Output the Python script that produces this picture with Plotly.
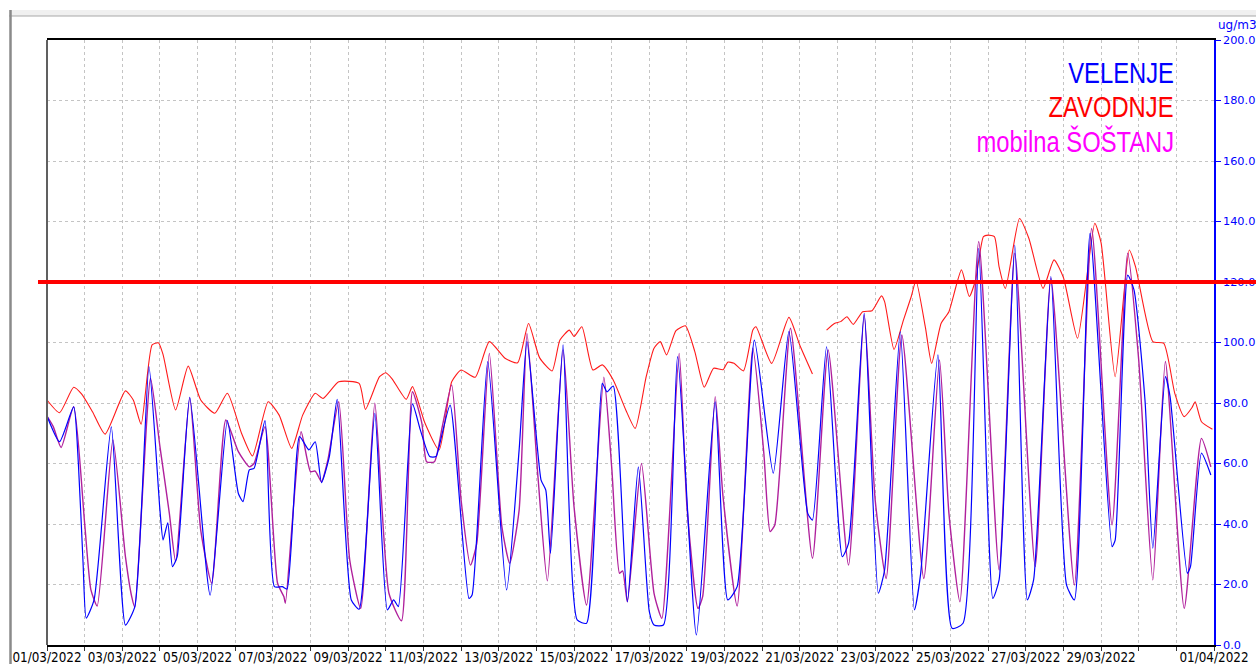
import plotly.graph_objects as go
import pandas as pd

START = pd.Timestamp("2022-03-01 00:00")

# ---- data: hours since 01/03/2022 00:00 and concentrations (ug/m3) ----
velenje_hours = [0, 8, 17, 20, 23, 25, 30, 41, 50, 56, 65, 72, 74, 77, 80, 83, 91, 104, 115, 122,
                 125, 129, 132, 139, 145, 150, 153, 161, 167, 171, 175, 180, 185, 194, 199, 209, 217, 221, 224, 233,
                 238, 244, 248, 250, 257, 269, 271, 281, 293, 301, 306, 315, 318, 321, 329, 338, 344, 354, 357, 361,
                 370, 377, 384, 387, 393, 402, 414, 426, 434, 440, 451, 463, 473, 485, 488, 497, 507, 511, 521, 530,
                 534, 544, 553, 557, 568, 577, 584, 594, 603, 607, 617, 625, 629, 640, 650, 655, 665, 679, 681, 689,
                 693, 700, 705, 713, 716, 727, 729, 736, 742]
velenje_values = [75.7, 67.2, 78.7, 60.0, 27.0, 8.9, 14.9, 72.1, 6.6, 12.7, 92.0, 44.6, 34.7, 40.4, 25.9, 29.2, 81.9, 16.5, 74.2, 50.1,
                  47.4, 57.9, 58.4, 74.2, 19.3, 19.3, 18.5, 68.9, 64.5, 67.2, 53.7, 62.3, 81.2, 14.9, 11.8, 76.6, 11.6, 14.9, 12.7, 79.7,
                  71.1, 62.3, 62.3, 65.6, 79.3, 15.4, 16.5, 93.7, 18.2, 64.5, 100.3, 54.5, 51.2, 30.3, 99.2, 8.3, 7.2, 86.5, 83.7, 85.6,
                  14.3, 58.9, 11.0, 6.6, 6.6, 95.3, 3.3, 80.4, 14.9, 19.3, 100.8, 56.8, 103.6, 43.5, 41.3, 98.6, 29.2, 33.6, 109.6, 17.1,
                  24.8, 103.6, 11.6, 23.7, 95.9, 5.5, 7.2, 131.1, 15.4, 21.5, 132.2, 14.9, 21.5, 121.8, 19.8, 14.9, 136.1, 32.5, 34.7, 122.3,
                  117.4, 81.0, 32.0, 88.7, 82.1, 23.7, 25.9, 63.4, 56.2]

zavodnje_hours = [0, 8, 17, 22, 29, 37, 50, 55, 60, 67, 71, 74, 82, 90, 98, 107, 115, 124, 131, 141,
                  148, 156, 163, 171, 176, 186, 199, 203, 212, 216, 220, 229, 233, 241, 250, 258, 264, 273, 282, 292,
                  300, 307, 314, 322, 327, 333, 336, 341, 348, 354, 361, 369, 375, 382, 387, 391, 395, 401, 407, 413,
                  419, 425, 431, 434, 438, 444, 450, 452, 462, 473, 480, 488, 492, 497, 502, 506, 510, 514, 520, 526,
                  532, 534, 540, 546, 551, 554, 560, 564, 570, 575, 583, 588, 592, 597, 600, 604, 607, 611, 620, 626,
                  635, 642, 648, 657, 668, 672, 681, 690, 694, 705, 712, 719, 725, 730, 732, 736, 743]
zavodnje_values = [81.0, 76.8, 85.2, 83.0, 77.1, 69.7, 84.0, 81.0, 73.0, 99.2, 99.9, 96.0, 77.7, 92.2, 81.0, 76.6, 83.2, 70.0, 62.5, 80.4,
                   76.0, 65.0, 76.0, 83.2, 81.5, 87.0, 86.5, 77.9, 88.7, 90.0, 88.0, 81.2, 85.4, 73.3, 64.5, 87.0, 90.9, 88.5, 100.3, 94.8,
                   93.3, 106.3, 95.0, 90.6, 100.8, 104.1, 102.0, 105.2, 90.9, 92.6, 87.6, 77.7, 71.6, 88.7, 98.1, 100.3, 95.9, 103.9, 105.5, 97.0,
                   85.2, 91.5, 91.0, 93.5, 93.1, 90.6, 104.1, 105.2, 93.1, 108.3, 99.0, 89.6, None, 104.1, 106.3, 106.9, 108.5, 106.0, 110.2, 110.5,
                   115.4, 113.5, 97.7, 107.4, 115.2, 120.5, 105.0, 93.1, 106.3, 110.2, 124.0, 115.2, 120.7, 135.0, 135.5, 135.0, 125.0, 117.9, 141.0, 134.4,
                   117.9, 127.3, 121.5, 101.4, 139.4, 133.0, 88.7, 130.6, 125.0, 100.3, 99.7, 83.2, 75.5, 78.5, 80.4, 73.8, 71.3]

sostanj_hours = [0, 4, 9, 17, 24, 28, 32, 42, 50, 54, 56, 66, 72, 78, 82, 91, 98, 105, 114, 122,
                 129, 132, 139, 147, 151, 152, 162, 168, 171, 175, 179, 186, 193, 200, 209, 218, 226, 233, 239, 242,
                 247, 252, 258, 264, 270, 274, 282, 290, 295, 301, 306, 313, 319, 329, 336, 344, 355, 360, 365, 367,
                 370, 379, 387, 392, 403, 408, 415, 418, 426, 431, 440, 450, 457, 461, 464, 474, 488, 498, 511, 521,
                 528, 535, 545, 559, 569, 575, 582, 594, 607, 617, 630, 640, 655, 666, 679, 689, 696, 705, 713, 725,
                 736, 742]
sostanj_values = [75.7, 72.2, 65.3, 78.8, 40.2, 18.2, 12.9, 67.8, 29.2, 16.0, 12.5, 88.2, 65.6, 43.5, 27.5, 81.6, 38.0, 20.4, 74.4, 63.9,
                  58.9, 60.0, 72.2, 20.4, 16.0, 13.8, 70.5, 57.3, 57.5, 54.0, 61.0, 80.4, 28.1, 12.1, 79.9, 17.1, 8.0, 83.7, 73.3, 60.6,
                  60.6, 72.2, 86.0, 47.9, 26.4, 33.6, 96.4, 39.1, 27.0, 44.6, 103.0, 55.6, 21.2, 97.5, 45.7, 13.2, 88.5, 58.9, 23.7, 24.5,
                  14.3, 60.0, 17.1, 8.8, 96.4, 45.7, 12.1, 16.0, 82.1, 49.0, 12.9, 98.1, 63.4, 37.5, 39.7, 104.7, 28.7, 97.5, 26.4, 109.1,
                  47.9, 22.0, 102.5, 22.0, 94.2, 43.5, 14.3, 133.4, 24.8, 129.5, 25.9, 121.2, 19.8, 137.7, 39.7, 129.5, 94.2, 21.5, 93.7, 12.1,
                  68.3, 58.9]

limit_value = 120
y_ticks = [0, 20, 40, 60, 80, 100, 120, 140, 160, 180, 200]
label_days = [0, 2, 4, 6, 8, 10, 12, 14, 16, 18, 20, 22, 24, 26, 28, 31]
n_days = 31


def to_time(hours):
    return [START + pd.Timedelta(hours=h) for h in hours]


SMOOTH = 0.55
fig = go.Figure()
fig.add_trace(go.Scatter(x=to_time(zavodnje_hours), y=zavodnje_values, mode="lines",
                         line=dict(color="#FF1A1A", width=1.1, shape="spline", smoothing=SMOOTH),
                         connectgaps=False, name="ZAVODNJE"))
fig.add_trace(go.Scatter(x=to_time(sostanj_hours), y=sostanj_values, mode="lines",
                         line=dict(color="#B0209C", width=1.4, shape="spline", smoothing=SMOOTH),
                         name="mobilna ŠOŠTANJ"))
fig.add_trace(go.Scatter(x=to_time(velenje_hours), y=velenje_values, mode="lines",
                         line=dict(color="#0000FF", width=1.2, shape="spline", smoothing=SMOOTH),
                         name="VELENJE"))

tick_days = list(range(n_days + 1))
tickvals = [START + pd.Timedelta(days=d) for d in tick_days]
ticktext = [(START + pd.Timedelta(days=d)).strftime("%d/%m/%Y") if d in label_days else "" for d in tick_days]

L, R, T, B = 47, 42, 40, 19
W, H = 1256, 664
pw, ph = W - L - R, H - T - B


def px(x):
    return (x - L) / pw


def py(y):
    return 1 - (y - T) / ph


GRID = "#c4c4c4"
fig.update_layout(
    width=W, height=H,
    margin=dict(l=L, r=R, t=T, b=B, pad=0),
    paper_bgcolor="white", plot_bgcolor="white",
    showlegend=False,
    font=dict(family="DejaVu Sans", size=12, color="black"),
    xaxis=dict(
        type="date",
        range=[START, START + pd.Timedelta(days=n_days)],
        tickmode="array", tickvals=tickvals, ticktext=ticktext,
        ticks="outside", ticklen=4, tickcolor="#333333", tickwidth=1,
        tickangle=0,
        showgrid=True, gridcolor=GRID, griddash="dot", gridwidth=1,
        showline=True, linecolor="black", linewidth=1.5, mirror=True,
        tickfont=dict(family="DejaVu Sans", size=13.5, color="black"),
        automargin=False, zeroline=False,
    ),
    yaxis=dict(
        side="right",
        range=[0, 200],
        tickmode="array", tickvals=y_ticks, tickformat=".1f",
        ticks="outside", ticklen=5, tickcolor="#0000FF", tickwidth=1,
        showgrid=True, gridcolor=GRID, griddash="dot", gridwidth=1,
        showline=True, linecolor="#0000FF", linewidth=1.5,
        tickfont=dict(family="DejaVu Sans", size=11.3, color="#0000FF"),
        automargin=False, zeroline=False,
    ),
)

shapes = [
    # window frame decoration
    dict(type="rect", xref="paper", yref="paper", x0=px(9), x1=px(W), y0=py(16), y1=py(10),
         fillcolor="#f0f0f0", line=dict(width=0), layer="below"),
    dict(type="line", xref="paper", yref="paper", x0=px(9), x1=px(W), y0=py(16), y1=py(16),
         line=dict(color="#a8a8a8", width=1)),
    dict(type="line", xref="paper", yref="paper", x0=px(10.5), x1=px(10.5), y0=py(H), y1=py(10),
         line=dict(color="#8a8a8a", width=2.5)),
    # left plot border
    dict(type="line", xref="paper", yref="paper", x0=0, x1=0, y0=0, y1=1,
         line=dict(color="#606060", width=2)),
    # limit value line
    dict(type="line", xref="paper", yref="y", x0=px(38), x1=px(W), y0=limit_value, y1=limit_value,
         line=dict(color="#FF0000", width=4)),
]
fig.update_layout(shapes=shapes)

legend_font = "Liberation Sans, Arial, sans-serif"
annotations = [
    dict(text="VELENJE", x=px(1175), y=py(73), color="#0000FF"),
    dict(text="ZAVODNJE", x=px(1175), y=py(107), color="#FF0000"),
    dict(text="mobilna ŠOŠTANJ", x=px(1175), y=py(141), color="#FF00FF"),
]
fig.update_layout(annotations=[
    dict(xref="paper", yref="paper", x=a["x"], y=a["y"], xanchor="right", yanchor="middle",
         text=a["text"], showarrow=False, borderpad=0,
         font=dict(family=legend_font, size=29, color=a["color"]))
    for a in annotations
] + [
    dict(xref="paper", yref="paper", x=px(1237), y=py(25), xanchor="center", yanchor="middle",
         text="ug/m3", showarrow=False, font=dict(family="DejaVu Sans", size=12, color="#0000FF"))
])

# condense the legend texts and the date labels horizontally (narrow typeface look)
post = """
document.body.style.margin='0';
document.body.style.overflow='hidden';
(function(){
  var gd = document.getElementById('{plot_id}');
  function squeeze(el, f, where, dy){
    var bb = el.getBBox();
    if(!bb.width) return;
    var ax = where === 'right' ? bb.x + bb.width : bb.x + bb.width / 2;
    var tr = el.getAttribute('transform') || '';
    el.setAttribute('transform', tr + ' translate(0,' + dy + ') translate(' + ax + ',0) scale(' + f + ',1) translate(' + (-ax) + ',0)');
  }
  var names = ['VELENJE', 'ZAVODNJE', 'mobilna ŠOŠTANJ'];
  gd.querySelectorAll('text.annotation-text').forEach(function(t){
    if(names.indexOf(t.textContent) >= 0) squeeze(t, 0.82, 'right', 0);
  });
  var svgTop = gd.querySelector('svg.main-svg').getBoundingClientRect().top;
  gd.querySelectorAll('g.xtick text').forEach(function(t){
    if(!t.textContent) return;
    var r = t.getBoundingClientRect();
    var dy = 649 - (r.top - svgTop);
    squeeze(t, 0.89, 'center', dy);
  });
})();
"""

fig.write_html("out.html", config={"displayModeBar": False}, post_script=post)
